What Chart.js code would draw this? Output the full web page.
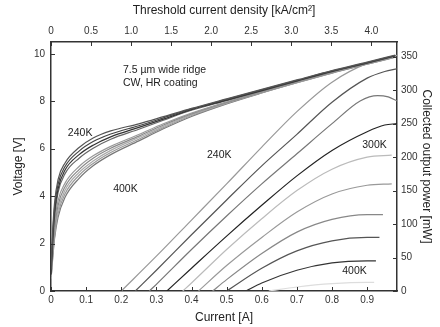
<!DOCTYPE html>
<html>
<head>
<meta charset="utf-8">
<script src="https://cdn.jsdelivr.net/npm/chart.js@4"></script>
<style>
  body { margin: 0; background: #fff; }
  canvas { display: block; }
</style>
</head>
<body>
<canvas id="grafico" width="440" height="327"></canvas>
<script>
// tick values
const currentTicks = [0, 0.1, 0.2, 0.3, 0.4, 0.5, 0.6, 0.7, 0.8, 0.9];
const densityTicks = [0, 0.5, 1.0, 1.5, 2.0, 2.5, 3.0, 3.5, 4.0];
const voltageTicks = [0, 2, 4, 6, 8, 10];
const powerTicks = [0, 50, 100, 150, 200, 250, 300, 350];

// V-I curves, 240K .. 400K
const voltCurrent = [0, 0.005, 0.01, 0.02, 0.04, 0.08, 0.12, 0.17, 0.25, 0.32, 0.4, 0.5, 0.6, 0.7, 0.8, 0.9, 0.98];
const v240 = [0.9, 2.6, 3.7, 4.7, 5.4, 6.05, 6.45, 6.75, 7.05, 7.35, 7.7, 8.1, 8.5, 8.9, 9.3, 9.65, 9.95];
const v260 = [0.8, 2.4, 3.5, 4.5, 5.25, 5.9, 6.3, 6.62, 6.97, 7.3, 7.68, 8.08, 8.48, 8.88, 9.28, 9.63, 9.93];
const v280 = [0.7, 2.2, 3.3, 4.3, 5.1, 5.75, 6.15, 6.5, 6.9, 7.25, 7.65, 8.05, 8.45, 8.86, 9.26, 9.62, 9.92];
const v300 = [0.7, 2.0, 3.1, 4.15, 4.95, 5.6, 6.02, 6.4, 6.82, 7.2, 7.62, 8.03, 8.44, 8.85, 9.25, 9.61, 9.91];
const v320 = [0.6, 1.8, 2.8, 3.8, 4.55, 5.25, 5.7, 6.1, 6.6, 7.05, 7.5, 7.97, 8.4, 8.82, 9.23, 9.6, 9.9];
const v340 = [0.6, 1.7, 2.6, 3.6, 4.4, 5.12, 5.6, 6.02, 6.53, 7.0, 7.47, 7.95, 8.38, 8.81, 9.22, 9.59, 9.89];
const v360 = [0.5, 1.6, 2.4, 3.4, 4.25, 5.0, 5.48, 5.93, 6.47, 6.94, 7.43, 7.93, 8.37, 8.8, 9.21, 9.58, 9.88];
const v380 = [0.5, 1.5, 2.3, 3.25, 4.1, 4.88, 5.38, 5.84, 6.4, 6.89, 7.4, 7.91, 8.36, 8.79, 9.2, 9.57, 9.87];
const v400 = [0.5, 1.4, 2.2, 3.1, 3.95, 4.75, 5.28, 5.75, 6.33, 6.84, 7.36, 7.89, 8.35, 8.78, 9.19, 9.56, 9.86];

// L-I curves (collected power, mW)
const p240I = [0.20, 0.3, 0.4, 0.5, 0.6, 0.7, 0.8, 0.9, 0.985];
const p240 = [0, 52, 106, 160, 215, 268, 312, 340, 352];
const p260I = [0.24, 0.3, 0.4, 0.5, 0.6, 0.7, 0.8, 0.9, 0.95, 0.985];
const p260 = [0, 31, 84, 136, 187, 234, 282, 318, 328, 332];
const p280I = [0.28, 0.3, 0.4, 0.5, 0.6, 0.7, 0.8, 0.88, 0.93, 0.96, 0.985];
const p280 = [0, 10, 62, 112, 160, 205, 250, 284, 292, 290, 284];
const p300I = [0.33, 0.4, 0.5, 0.6, 0.7, 0.8, 0.9, 0.95, 0.985];
const p300 = [0, 34, 82, 128, 172, 210, 238, 248, 250];
const p320I = [0.375, 0.4, 0.5, 0.6, 0.7, 0.8, 0.9, 0.97];
const p320 = [0, 12, 62, 108, 150, 182, 200, 203];
const p340I = [0.42, 0.5, 0.6, 0.7, 0.8, 0.9, 0.97];
const p340 = [0, 38, 80, 118, 145, 158, 160];
const p360I = [0.46, 0.5, 0.6, 0.7, 0.8, 0.9, 0.945];
const p360 = [0, 17, 56, 88, 107, 114, 114];
const p380I = [0.50, 0.6, 0.7, 0.8, 0.9, 0.935];
const p380 = [0, 34, 60, 75, 80, 80];
const p400I = [0.555, 0.6, 0.7, 0.8, 0.9, 0.925];
const p400 = [0, 12, 31, 42, 45, 45];
const pLowI = [0.62, 0.7, 0.8, 0.9, 0.92];
const pLow = [0, 6, 11, 13, 13];

const pares = (xs, ys) => xs.map((x, i) => ({ x: x, y: ys[i] }));

const curvasV = [
  [v240, '#555'], [v260, '#444'], [v280, '#333'], [v300, '#666'],
  [v320, '#999'], [v340, '#888'], [v360, '#aaa'], [v380, '#999'], [v400, '#777']
];
const curvasP = [
  [p240I, p240, '#999'], [p260I, p260, '#555'], [p280I, p280, '#777'], [p300I, p300, '#222'],
  [p320I, p320, '#bbb'], [p340I, p340, '#999'], [p360I, p360, '#888'], [p380I, p380, '#555'],
  [p400I, p400, '#333'], [pLowI, pLow, '#ddd']
];

const datasets = [];
curvasV.forEach(([v, c]) => datasets.push({
  data: pares(voltCurrent, v), xAxisID: 'x', yAxisID: 'y',
  borderColor: c, borderWidth: 1.2, pointRadius: 0, cubicInterpolationMode: 'monotone'
}));
curvasP.forEach(([i, p, c]) => datasets.push({
  data: pares(i, p), xAxisID: 'x', yAxisID: 'y2',
  borderColor: c, borderWidth: 1.2, pointRadius: 0, cubicInterpolationMode: 'monotone'
}));

// text notes, placed in data units
const notas = [
  { text: '7.5 \u00b5m wide ridge', x: 0.205, y: 9.33, eje: 'y' },
  { text: 'CW, HR coating', x: 0.205, y: 8.78, eje: 'y' },
  { text: '240K', x: 0.048, y: 6.67, eje: 'y' },
  { text: '400K', x: 0.177, y: 4.3, eje: 'y' },
  { text: '240K', x: 0.444, y: 203, eje: 'y2' },
  { text: '300K', x: 0.886, y: 218, eje: 'y2' },
  { text: '400K', x: 0.829, y: 30, eje: 'y2' }
];

const fuente = "'Liberation Sans', Arial, sans-serif";

const notasPlugin = {
  id: 'notas',
  afterDatasetsDraw(chart) {
    const ctx = chart.ctx;
    ctx.save();
    ctx.fillStyle = '#222';
    ctx.font = '10.5px ' + fuente;
    ctx.textBaseline = 'middle';
    notas.forEach(n => {
      ctx.fillText(n.text, chart.scales.x.getPixelForValue(n.x), chart.scales[n.eje].getPixelForValue(n.y));
    });
    ctx.restore();
  }
};

// inward tick marks
const ticksPlugin = {
  id: 'ticksDentro',
  afterDraw(chart) {
    const ctx = chart.ctx;
    const a = chart.chartArea;
    ctx.save();
    ctx.strokeStyle = '#333';
    ctx.lineWidth = 1;
    ['x', 'x2', 'y', 'y2'].forEach(id => {
      const s = chart.scales[id];
      s.ticks.forEach(t => {
        const p = Math.round(s.getPixelForValue(t.value)) + 0.5;
        ctx.beginPath();
        if (id === 'x') { ctx.moveTo(p, a.bottom); ctx.lineTo(p, a.bottom - 4); }
        if (id === 'x2') { ctx.moveTo(p, a.top); ctx.lineTo(p, a.top + 4); }
        if (id === 'y') { ctx.moveTo(a.left, p); ctx.lineTo(a.left + 4, p); }
        if (id === 'y2') { ctx.moveTo(a.right, p); ctx.lineTo(a.right - 4, p); }
        ctx.stroke();
      });
    });
    ctx.restore();
  }
};

const tickFont = { family: fuente, size: 10 };
const titleFont = { family: fuente, size: 12 };
const borde = { display: true, color: '#333', width: 1.5 };

new Chart(document.getElementById('grafico'), {
  type: 'line',
  data: { datasets: datasets },
  plugins: [notasPlugin, ticksPlugin],
  options: {
    responsive: false,
    animation: false,
    devicePixelRatio: 1,
    layout: { padding: 0 },
    plugins: { legend: { display: false }, tooltip: { enabled: false } },
    scales: {
      x: {
        type: 'linear', position: 'bottom', min: 0, max: 0.985,
        afterBuildTicks: s => { s.ticks = currentTicks.map(v => ({ value: v })); },
        afterFit: s => { s.height = 36; },
        ticks: { font: tickFont, color: '#333', padding: 3, maxRotation: 0,
                 callback: v => v === 0 ? '0' : v.toFixed(1) },
        grid: { drawOnChartArea: false, drawTicks: false },
        border: borde,
        title: { display: true, text: 'Current [A]', font: titleFont, color: '#222',
                 padding: { top: 0, bottom: 2 } }
      },
      x2: {
        type: 'linear', position: 'top', min: 0, max: 4.32,
        afterBuildTicks: s => { s.ticks = densityTicks.map(v => ({ value: v })); },
        afterFit: s => { s.height = 42; },
        ticks: { font: tickFont, color: '#333', padding: 5, maxRotation: 0,
                 callback: v => v === 0 ? '0' : v.toFixed(1) },
        grid: { drawOnChartArea: false, drawTicks: false },
        border: borde,
        title: { display: true, text: 'Threshold current density [kA/cm\u00b2]', font: titleFont, color: '#222',
                 padding: { top: 3, bottom: 0 } }
      },
      y: {
        type: 'linear', position: 'left', min: 0, max: 10.5,
        afterBuildTicks: s => { s.ticks = voltageTicks.map(v => ({ value: v })); },
        afterFit: s => { s.width = 51; },
        ticks: { font: tickFont, color: '#333', padding: 6 },
        grid: { drawOnChartArea: false, drawTicks: false },
        border: borde,
        title: { display: true, text: 'Voltage [V]', font: titleFont, color: '#222',
                 padding: { top: 11, bottom: 0 } }
      },
      y2: {
        type: 'linear', position: 'right', min: 0, max: 372,
        afterBuildTicks: s => { s.ticks = powerTicks.map(v => ({ value: v })); },
        afterFit: s => { s.width = 43; },
        ticks: { font: tickFont, color: '#333', padding: 4 },
        grid: { drawOnChartArea: false, drawTicks: false },
        border: borde,
        title: { display: true, text: 'Collected output power [mW]', font: titleFont, color: '#222',
                 padding: { top: 6, bottom: 0 } }
      }
    }
  }
});
</script>
</body>
</html>
